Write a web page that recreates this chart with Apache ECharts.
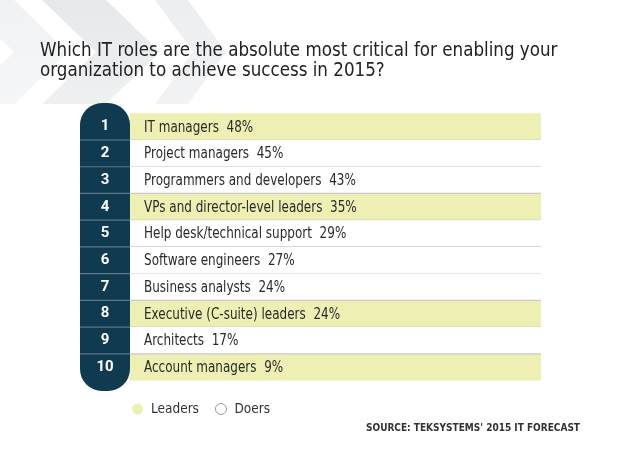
<!DOCTYPE html>
<html>
<head>
<meta charset="utf-8">
<script src="https://cdn.jsdelivr.net/npm/echarts@6/dist/echarts.min.js"></script>
<style>
html,body{margin:0;padding:0;background:#fff;}
#chart{width:620px;height:465px;}
</style>
</head>
<body>
<div id="chart"></div>
<script>
var titleText = 'Which IT roles are the absolute most critical for enabling your\norganization to achieve success in 2015?';
var ranks = ['1','2','3','4','5','6','7','8','9','10'];
var roles = ['IT managers','Project managers','Programmers and developers','VPs and director-level leaders','Help desk/technical support','Software engineers','Business analysts','Executive (C-suite) leaders','Architects','Account managers'];
var percents = [48,45,43,35,29,27,24,24,17,9];
var groups = ['Leaders','Doers','Doers','Leaders','Doers','Doers','Doers','Leaders','Doers','Leaders'];
var sourceText = "SOURCE: TEKSYSTEMS' 2015 IT FORECAST";

var FONT = '"Liberation Sans Narrow", "DejaVu Sans Condensed", Roboto, sans-serif';
var NAVY = '#103a4f';
var YELLOW = '#eef0b3';

function buildData(group) {
  var out = [];
  for (var i = 0; i < ranks.length; i++) {
    if (groups[i] === group) out.push({value: [percents[i], ranks[i]], role: roles[i], idx: i});
  }
  return out;
}

var leadersData = buildData('Leaders');
var doersData = buildData('Doers');

function renderRow(fill, list) {
  return function (params, api) {
    var cs = params.coordSys;
    var yc = api.coord([0, api.value(1)])[1];
    var h = api.size([0, 1])[1];
    var top = yc - h / 2;
    var item = list[params.dataIndex];
    var children = [{
      type: 'rect',
      shape: {x: cs.x, y: top, width: cs.width, height: h},
      style: {fill: fill}
    }, {
      type: 'text',
      x: cs.x + 14, y: yc + 1, scaleX: 0.89,
      style: {
        text: item.role + '  ' + api.value(0) + '%',
        x: 0, y: 0,
        verticalAlign: 'middle', align: 'left',
        fill: '#2a2a2a', font: '15px ' + FONT
      }
    }];
    if (item.idx < ranks.length - 1) {
      children.push({
        type: 'line',
        shape: {x1: cs.x, y1: top + h, x2: cs.x + cs.width, y2: top + h},
        style: {stroke: '#c9cbc9', lineWidth: 1.2}
      });
      children.push({
        type: 'line',
        shape: {x1: cs.x - 50, y1: top + h, x2: cs.x, y2: top + h},
        style: {stroke: '#5d7a88', lineWidth: 1.2}
      });
    }
    return {type: 'group', children: children};
  };
}

function fade(c1, c2) {
  return new echarts.graphic.LinearGradient(0, 0, 0, 1, [{offset: 0, color: c1}, {offset: 1, color: c2}]);
}

var chart = echarts.init(document.getElementById('chart'), null, {renderer: 'canvas'});
chart.setOption({
  backgroundColor: '#fff',
  animation: false,
  graphic: [
    {type: 'polygon', z: -10, silent: true, shape: {points: [[-40,0],[14,0],[68,52],[14,104],[-40,104],[14,52]]}, style: {fill: fade('#f0f2f3', '#f5f6f7')}},
    {type: 'polygon', z: -10, silent: true, shape: {points: [[42,0],[106,0],[160,52],[106,104],[42,104],[96,52]]}, style: {fill: fade('#e6e9eb', '#eef0f1')}},
    {type: 'polygon', z: -10, silent: true, shape: {points: [[155,0],[188,0],[226,52],[188,104],[155,104],[193,52]]}, style: {fill: fade('#eceef0', '#f2f3f4')}},
    {type: 'rect', z: 0, silent: true, shape: {x: 80, y: 103, width: 50, height: 288, r: [22,22,22,22]}, style: {fill: NAVY}},
    {type: 'text', z: 5, silent: true, x: 40, y: 41, scaleX: 0.93,
      style: {text: titleText, x: 0, y: 0, font: '20px ' + FONT, fill: '#222', lineHeight: 20, verticalAlign: 'top'}},
    {type: 'text', left: 366, top: 423, style: {text: sourceText, font: 'bold 10px ' + FONT, fill: '#333'}, silent: true}
  ],
  legend: {
    left: 127, top: 397,
    itemWidth: 11, itemHeight: 11, itemGap: 16,
    textStyle: {fontFamily: FONT, fontSize: 13.5, color: '#333', padding: [0, 0, 0, 3]},
    data: [
      {name: 'Leaders', icon: 'circle', itemStyle: {color: YELLOW, borderWidth: 0}},
      {name: 'Doers', icon: 'circle', itemStyle: {color: '#fff', borderColor: '#9a9a9a', borderWidth: 1}}
    ],
    selectedMode: false
  },
  grid: {left: 130, right: 79, top: 113.3, bottom: 465 - 380.5},
  xAxis: {type: 'value', min: 0, max: 100, show: false},
  yAxis: {
    type: 'category', data: ranks, inverse: true,
    axisLine: {show: false}, axisTick: {show: false}, splitLine: {show: false},
    axisLabel: {color: '#fff', fontWeight: 'bold', fontSize: 15, fontFamily: 'Roboto, "Open Sans", sans-serif', align: 'center', margin: 25}
  },
  series: [
    {name: 'Leaders', type: 'custom', renderItem: renderRow(YELLOW, leadersData), data: leadersData, itemStyle: {color: YELLOW}, z: 2},
    {name: 'Doers', type: 'custom', renderItem: renderRow('#ffffff', doersData), data: doersData, itemStyle: {color: '#fff'}, z: 2}
  ]
});
</script>
</body>
</html>
